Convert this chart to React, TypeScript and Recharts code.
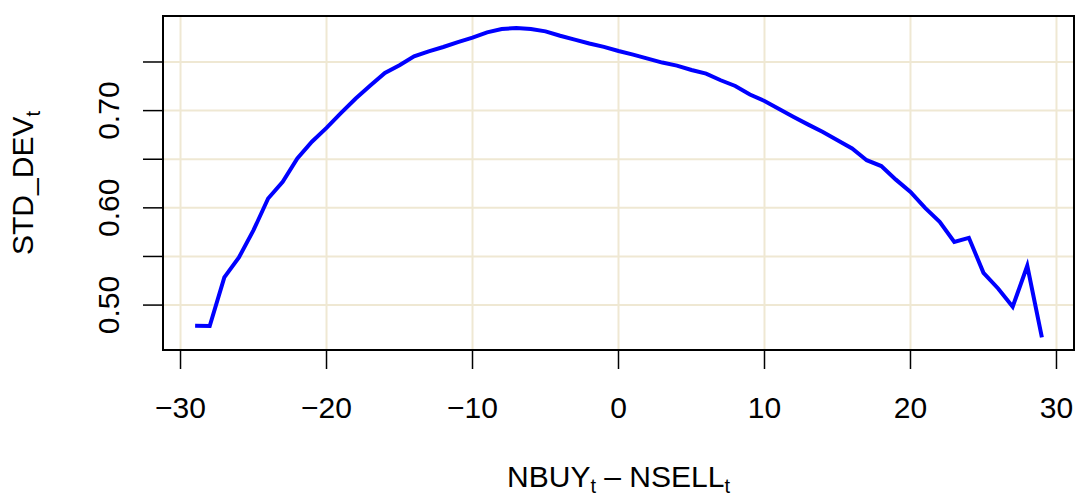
import { CartesianGrid, Label, Line, LineChart, ReferenceArea, XAxis, YAxis } from "recharts";

const netOrders = [
  -29, -28, -27, -26, -25, -24, -23, -22, -21, -20, -19, -18, -17, -16, -15, -14, -13, -12, -11, -10,
  -9, -8, -7, -6, -5, -4, -3, -2, -1, 0, 1, 2, 3, 4, 5, 6, 7, 8, 9, 10,
  11, 12, 13, 14, 15, 16, 17, 18, 19, 20, 21, 22, 23, 24, 25, 26, 27, 28, 29,
];

const stdDev = [
  0.4787, 0.4784, 0.5285, 0.549, 0.577, 0.6096, 0.6267, 0.6507, 0.668, 0.6822,
  0.6976, 0.7124, 0.7257, 0.7387, 0.7466, 0.7558, 0.761, 0.7654, 0.7705, 0.775,
  0.7805, 0.7839, 0.785, 0.784, 0.7815, 0.777, 0.773, 0.769, 0.7655, 0.7613,
  0.7576, 0.7535, 0.7494, 0.7463, 0.7418, 0.738, 0.7312, 0.7253, 0.7165, 0.7099,
  0.7017, 0.6935, 0.6856, 0.678, 0.6695, 0.661, 0.649, 0.643, 0.629, 0.6164,
  0.6, 0.5856, 0.565, 0.5692, 0.5332, 0.5171, 0.4983, 0.5404, 0.4668,
];

const xTicks = [-30, -20, -10, 0, 10, 20, 30];
const yTicks = [0.5, 0.55, 0.6, 0.65, 0.7, 0.75];
const yLabelled = [0.5, 0.6, 0.7];

const X_DOMAIN: [number, number] = [-31.2, 31.2];
const Y_DOMAIN: [number, number] = [0.4538, 0.7973];

const FONT = '"Liberation Sans", Arial, sans-serif';

const data = netOrders.map((x, i) => ({ x, y: stdDev[i] }));

function XTick(props: any) {
  const { x, y, payload } = props;
  const v = payload.value;
  return (
    <text x={x} y={y + 49} textAnchor="middle" fontSize={30} fontFamily={FONT} fill="#000">
      {v < 0 ? "\u2212" + Math.abs(v) : String(v)}
    </text>
  );
}

function YTick(props: any) {
  const { x, y, payload } = props;
  const v = payload.value;
  if (!yLabelled.some((t) => Math.abs(t - v) < 1e-6)) return null;
  const bx = x - 23.5;
  return (
    <text
      x={bx}
      y={y}
      transform={`rotate(-90 ${bx} ${y})`}
      textAnchor="middle"
      fontSize={30}
      fontFamily={FONT}
      fill="#000"
    >
      {v.toFixed(2)}
    </text>
  );
}

function XTitle(props: any) {
  const vb = props.viewBox;
  const cx = vb.x + vb.width / 2;
  return (
    <text x={cx} y={vb.y + 137} textAnchor="middle" fontSize={30} fontFamily={FONT} fill="#000">
      NBUY
      <tspan fontSize={20} dy={6}>t</tspan>
      <tspan dy={-6}>{" \u2013 NSELL"}</tspan>
      <tspan fontSize={20} dy={6}>t</tspan>
    </text>
  );
}

function YTitle(props: any) {
  const vb = props.viewBox;
  const cy = vb.y + vb.height / 2;
  const bx = vb.x + 33;
  return (
    <text
      x={bx}
      y={cy}
      transform={`rotate(-90 ${bx} ${cy})`}
      textAnchor="middle"
      fontSize={30}
      fontFamily={FONT}
      fill="#000"
    >
      STD_DEV
      <tspan fontSize={20} dy={7}>t</tspan>
    </text>
  );
}

export default function App() {
  return (
    <div style={{ position: "absolute", left: 0, top: 0, background: "#fff" }}>
      <LineChart width={1078} height={498} data={data} margin={{ top: 16, right: 4, left: 0, bottom: 0 }}>
        <CartesianGrid stroke="#EFE8D3" strokeWidth={2} />
        <XAxis
          dataKey="x"
          type="number"
          domain={X_DOMAIN}
          ticks={xTicks}
          height={148}
          axisLine={false}
          tickSize={19}
          tickMargin={0}
          tickLine={{ stroke: "#000", strokeWidth: 1.5 }}
          tick={XTick}
          interval={0}
        >
          <Label content={XTitle} />
        </XAxis>
        <YAxis
          type="number"
          domain={Y_DOMAIN}
          ticks={yTicks}
          width={163}
          axisLine={false}
          tickSize={20}
          tickMargin={0}
          tickLine={{ stroke: "#000", strokeWidth: 1.5 }}
          tick={YTick}
          interval={0}
        >
          <Label content={YTitle} />
        </YAxis>
        <ReferenceArea
          x1={X_DOMAIN[0]}
          x2={X_DOMAIN[1]}
          y1={Y_DOMAIN[0]}
          y2={Y_DOMAIN[1]}
          fill="none"
          stroke="#000"
          strokeWidth={2}
        />
        <Line
          dataKey="y"
          stroke="#0000FF"
          strokeWidth={4}
          dot={false}
          type="linear"
          isAnimationActive={false}
        />
      </LineChart>
    </div>
  );
}
